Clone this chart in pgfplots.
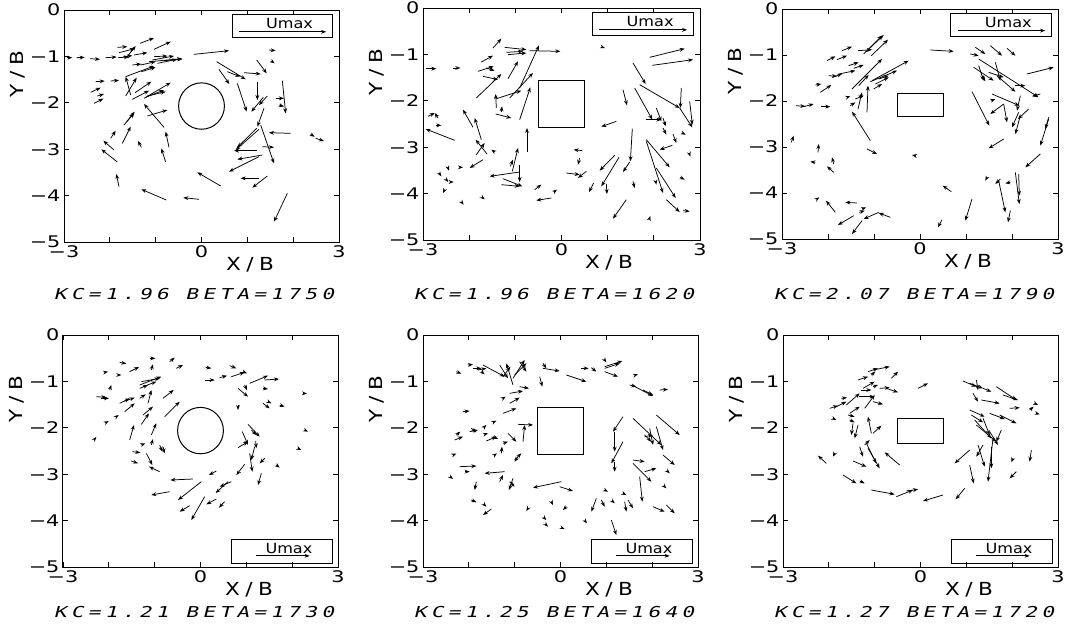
\documentclass[border=0pt]{standalone}
\usepackage{fontspec}
\setmainfont{DejaVu Sans}
\newfontfamily\capfont{DejaVu Sans Mono}[FakeStretch=1.4, FakeSlant=0.25, LetterSpace=29]
\newfontfamily\labfont{DejaVu Sans}[FakeStretch=1.2, LetterSpace=30]
\newfontfamily\tickfont{DejaVu Sans}[FakeStretch=1.3]
\newfontfamily\umaxfont{DejaVu Sans}[FakeStretch=1.15]
\usepackage{pgfplots}
\usepackage{pgfplotstable}
\pgfplotsset{compat=1.18}
\usetikzlibrary{arrows.meta}

% arrow tables: tail (a,b) and head (c,d), read in pixels of a 3x enlargement of each frame
\pgfplotstableread{
a b c d
8 143 25 143
38 143 62 142
78 146 108 148
125 143 158 141
162 143 195 141
160 112 190 110
165 128 212 116
178 140 205 137
188 142 215 108
228 100 270 84
270 118 320 95
210 135 250 128
205 165 232 162
230 165 275 155
255 155 355 146
265 150 330 138
270 140 310 138
280 160 340 148
300 152 355 147
390 133 495 122
615 120 635 122
622 153 632 160
185 200 270 168
232 185 275 172
95 215 122 213
140 213 165 211
80 247 110 233
100 258 120 252
90 280 118 266
200 255 185 200
185 258 218 203
213 248 262 215
205 268 255 242
240 265 320 218
245 262 300 240
250 258 305 245
250 318 310 300
300 352 240 282
180 345 210 310
188 335 212 305
175 400 200 350
140 385 155 362
150 420 118 392
160 456 112 418
232 412 222 393
315 412 305 365
305 456 292 415
165 530 157 492
307 570 232 538
405 568 358 563
470 528 400 487
458 155 545 208
465 178 496 222
490 185 528 200
540 188 590 192
578 150 608 190
580 215 580 270
520 220 548 305
598 262 562 305
610 258 585 285
655 212 665 310
635 265 660 265
645 285 660 290
600 295 580 350
590 345 630 460
680 370 615 368
740 373 752 380
755 385 780 393
578 355 520 412
585 358 515 420
595 410 630 412
580 422 510 422
595 435 520 448
585 440 495 485
610 498 565 533
585 505 530 505
670 550 630 635
}\tA

\pgfplotstableread{
a b c d
8 182 40 182
90 180 112 180
210 120 235 92
245 118 310 125
250 133 300 130
255 140 310 135
290 240 348 112
320 128 412 130
175 162 210 143
165 190 212 175
180 205 225 215
190 180 215 188
160 270 235 198
255 212 285 160
220 300 218 258
220 272 295 248
260 270 330 195
290 335 322 238
235 312 237 295
218 318 265 330
45 330 35 315
15 325 35 315
40 352 55 352
95 397 8 363
150 358 120 305
175 395 155 330
192 438 158 395
160 440 185 405
215 432 205 425
312 432 312 360
180 455 140 480
110 478 120 478
75 480 78 488
48 495 55 505
70 515 76 522
80 522 92 522
65 545 60 555
268 490 285 420
262 475 270 455
290 470 290 522
290 492 200 505
240 512 298 535
235 530 290 535
335 545 355 530
395 550 402 545
385 570 340 577
118 585 122 590
180 570 185 574
478 428 452 425
470 450 465 470
430 495 470 500
490 490 465 510
580 340 535 356
540 118 546 120
680 148 785 122
688 172 810 155
630 165 668 228
650 230 770 300
600 245 612 292
635 240 688 335
775 240 772 300
700 300 715 340
720 330 728 355
770 300 808 358
800 280 808 350
670 335 715 335
628 362 622 460
575 442 530 488
588 448 535 535
620 462 600 492
670 395 740 478
670 400 720 555
700 480 758 570
748 412 710 425
720 360 730 380
750 378 760 405
778 375 788 380
800 440 802 446
772 508 785 515
698 520 700 530
512 525 498 552
550 528 552 558
630 520 635 540
610 575 570 632
730 575 770 612
780 608 800 610
680 630 682 624
}\tB

\pgfplotstableread{
a b c d
135 155 160 142
165 152 195 140
180 125 210 113
228 125 270 122
250 130 305 78
268 140 318 92
245 135 300 80
200 170 230 160
215 178 245 168
150 205 180 195
170 195 220 185
140 200 165 202
210 240 300 150
230 230 260 198
265 218 345 185
270 215 380 155
280 225 320 205
290 210 320 200
275 240 300 225
100 228 118 225
115 250 148 228
42 290 70 292
65 293 95 285
118 293 145 293
195 265 205 262
205 290 220 280
220 270 245 260
228 300 240 250
255 310 258 230
265 395 210 308
255 420 285 435
28 400 35 380
108 430 110 405
100 460 85 458
155 465 150 445
155 490 135 472
400 440 390 438
445 123 515 127
105 570 112 565
160 610 132 575
225 582 190 580
240 600 252 595
232 610 248 605
215 620 168 648
240 635 210 675
290 610 245 630
325 625 290 612
508 548 482 530
570 570 550 635
480 632 468 655
580 115 610 135
625 110 660 140
675 118 700 140
565 135 590 140
590 150 770 265
575 175 635 215
590 170 605 215
600 200 610 217
620 190 665 205
640 160 655 215
645 200 700 248
700 230 730 230
735 195 815 175
775 255 750 262
570 248 622 350
628 275 640 270
665 285 625 315
630 255 712 290
665 285 675 340
715 260 705 305
710 310 690 355
715 320 700 375
740 300 708 330
800 325 790 360
800 330 775 410
665 390 620 418
775 435 730 475
615 505 610 515
655 510 640 525
650 515 670 610
685 520 670 523
700 490 712 585
710 495 712 560
685 605 678 640
}\tC

\pgfplotstableread{
a b c d
125 112 135 110
170 82 190 86
165 120 175 120
200 110 228 96
260 70 277 70
320 80 335 68
340 100 360 90
265 105 270 88
230 150 295 125
235 140 290 130
240 155 280 140
230 160 255 150
140 165 145 150
100 185 130 187
115 190 138 190
170 205 200 190
180 200 215 188
185 230 215 205
230 190 248 178
255 205 265 165
240 240 270 215
235 268 258 235
160 245 167 240
130 262 137 258
300 190 332 165
305 245 350 200
265 300 280 265
200 315 213 270
95 312 100 306
235 330 247 325
265 330 270 312
290 330 298 350
300 335 305 355
208 350 232 353
250 355 268 390
205 378 225 385
290 410 258 395
390 432 322 435
320 470 265 480
415 440 345 495
425 485 385 555
380 512 350 530
460 492 430 508
485 500 468 518
460 408 438 420
505 440 470 455
495 440 458 474
428 97 445 100
425 135 455 135
470 128 492 122
500 92 520 100
505 125 545 112
540 110 552 115
525 160 555 185
545 150 552 165
560 145 615 122
605 135 648 132
600 160 615 162
600 205 620 220
615 200 625 205
650 210 665 215
720 175 732 176
525 210 525 225
555 268 590 305
565 285 580 300
538 290 555 330
525 338 555 320
578 318 580 340
575 335 565 375
560 355 568 410
605 370 590 385
595 415 585 450
545 388 520 420
640 390 650 398
725 285 735 290
705 340 715 345
}\tD

\pgfplotstableread{
a b c d
100 110 115 116
135 90 150 88
180 90 245 125
150 100 175 100
165 105 190 100
175 110 185 118
230 90 255 130
240 125 262 95
270 150 250 85
275 120 310 85
270 130 305 75
290 80 310 110
360 85 370 100
360 100 410 108
350 125 358 155
430 120 490 140
475 100 497 100
505 98 520 110
545 95 598 78
545 100 590 85
545 110 585 125
545 75 550 82
638 120 645 118
620 150 640 155
630 152 690 183
660 165 690 180
710 165 735 163
290 155 318 160
260 175 300 168
240 190 248 185
260 205 290 188
240 235 280 220
120 230 140 228
210 262 220 257
285 268 330 270
300 320 305 270
100 300 112 290
95 315 120 305
140 290 165 285
145 280 160 292
185 275 190 270
185 298 195 295
190 318 220 305
210 305 225 312
240 325 255 320
255 295 280 320
235 355 237 335
215 360 222 355
95 358 100 356
110 395 160 393
125 410 140 410
85 428 90 432
245 410 185 415
230 440 240 420
270 430 258 465
260 440 275 455
160 440 155 465
275 375 295 355
285 365 275 380
145 495 160 502
185 510 190 515
205 522 180 540
315 520 310 528
385 500 390 510
430 515 420 525
365 550 370 555
370 570 375 575
420 580 425 582
488 560 492 565
415 440 330 458
410 455 450 468
600 245 570 290
575 290 575 350
600 320 565 385
575 380 575 410
630 250 715 330
700 240 770 300
665 300 685 320
700 275 720 345
680 280 690 330
665 305 690 300
720 360 755 390
630 375 665 380
630 385 685 440
665 410 700 400
650 425 658 500
735 410 740 415
725 455 730 460
690 515 725 530
730 510 755 535
520 490 505 530
545 465 555 470
535 495 545 515
570 500 575 505
600 475 610 480
605 500 610 530
615 495 630 520
565 555 580 600
}\tE

\pgfplotstableread{
a b c d
255 110 285 100
270 105 320 95
225 135 255 125
240 160 275 140
265 120 277 110
270 155 285 150
235 165 265 165
290 160 320 158
325 130 345 110
310 160 345 172
405 160 435 145
175 190 192 188
140 220 165 212
160 215 190 200
190 210 230 175
200 235 230 215
228 185 275 185
245 220 275 180
270 200 300 208
150 250 160 255
195 240 215 245
200 255 215 262
210 265 205 300
225 270 215 310
265 295 255 245
270 295 295 272
245 330 260 315
230 335 240 365
250 325 280 385
255 340 290 400
130 385 105 362
155 355 150 365
210 378 250 395
180 420 220 445
230 438 245 445
350 390 305 352
265 465 335 478
340 485 390 465
370 468 405 463
480 480 420 498
545 460 518 493
540 138 580 155
560 145 600 160
580 135 585 165
600 160 625 170
640 155 700 195
660 180 705 195
680 220 710 218
595 195 650 205
570 175 585 200
740 225 752 215
755 205 765 210
760 235 770 238
560 225 605 245
565 240 600 262
620 235 665 252
650 240 700 265
575 255 625 310
580 270 640 320
600 250 620 300
620 290 645 330
655 285 640 320
585 330 605 395
600 330 580 365
630 310 615 440
625 335 625 400
560 345 515 385
560 390 572 445
700 410 680 430
745 345 740 380
690 370 685 382
}\tF

\pgfplotsset{
  panel/.style={scale only axis, anchor=south west,
    xmin=-3, xmax=3, ymin=-5, ymax=0,
    xtick={-3,-2,-1,0,1,2,3}, xticklabels={−3,,,0,,,3},
    ytick={-5,-4,-3,-2,-1,0}, yticklabels={−5,−4,−3,−2,−1,0},
    tick align=inside, major tick length=5pt,
    tick style={black, line width=0.8pt},
    axis line style={line width=1pt},
    ticklabel style={font=\tickfont\fontsize{16}{16}\selectfont},
    clip=false},
  vec/.style={-{Stealth[length=5pt,width=3.8pt]}, black, line width=0.75pt, no markers},
}
\newcommand{\umaxtop}{%
  \draw[line width=1pt] (axis cs:0.67,-0.09) rectangle (axis cs:2.86,-0.59);
  \draw[line width=0.75pt,-{Stealth[length=5pt,width=3.8pt]}] (axis cs:0.82,-0.47) -- (axis cs:2.72,-0.47);
  \node[font=\umaxfont\fontsize{14}{14}\selectfont] at (axis cs:1.92,-0.29) {Umax};}
\newcommand{\umaxbot}{%
  \draw[line width=1pt] (axis cs:0.67,-4.40) rectangle (axis cs:2.87,-4.92);
  \draw[line width=0.75pt,-{Stealth[length=5pt,width=3.8pt]}] (axis cs:1.2,-4.76) -- (axis cs:2.38,-4.76);
  \node[font=\umaxfont\fontsize{14}{14}\selectfont] at (axis cs:1.93,-4.6) {Umax};}

\begin{document}
\begin{tikzpicture}
\path[use as bounding box] (0pt,0pt) rectangle (1078pt,633pt);

% ---------- panel 1
\begin{axis}[panel, at={(64pt,391pt)}, width=275pt, height=232pt]
\addplot[vec, quiver={u={(\thisrow{c}-\thisrow{a})/137.5}, v={(\thisrow{b}-\thisrow{d})/139.2}}]
  table[x expr={\thisrow{a}/137.5-3}, y expr={-\thisrow{b}/139.2}] {\tA};
\draw[line width=1pt] (axis cs:0,-2.07) circle [radius=0.5];
\umaxtop
\end{axis}

% ---------- panel 2
\begin{axis}[panel, at={(423pt,393pt)}, width=277pt, height=232pt]
\addplot[vec, quiver={u={(\thisrow{c}-\thisrow{a})/138.5}, v={(\thisrow{b}-\thisrow{d})/139.2}}]
  table[x expr={\thisrow{a}/138.5-3}, y expr={-\thisrow{b}/139.2}] {\tB};
\draw[line width=1pt] (axis cs:-0.5,-1.57) rectangle (axis cs:0.5,-2.57);
\umaxtop
\end{axis}

% ---------- panel 3
\begin{axis}[panel, at={(782pt,394pt)}, width=276pt, height=230pt]
\addplot[vec, quiver={u={(\thisrow{c}-\thisrow{a})/138}, v={(\thisrow{b}-\thisrow{d})/138}}]
  table[x expr={\thisrow{a}/138-3}, y expr={-\thisrow{b}/138}] {\tC};
\draw[line width=1pt] (axis cs:-0.5,-1.83) rectangle (axis cs:0.5,-2.34);
\umaxtop
\end{axis}

% ---------- panel 4
\begin{axis}[panel, at={(63pt,66pt)}, width=275pt, height=232pt]
\addplot[vec, quiver={u={(\thisrow{c}-\thisrow{a})/137.5}, v={(\thisrow{b}-\thisrow{d})/139.2}}]
  table[x expr={\thisrow{a}/137.5-3}, y expr={-\thisrow{b}/139.2}] {\tD};
\draw[line width=1pt] (axis cs:0,-2.06) circle [radius=0.5];
\umaxbot
\end{axis}

% ---------- panel 5
\begin{axis}[panel, at={(423pt,66pt)}, width=275pt, height=232pt]
\addplot[vec, quiver={u={(\thisrow{c}-\thisrow{a})/137.5}, v={(\thisrow{b}-\thisrow{d})/139.2}}]
  table[x expr={\thisrow{a}/137.5-3}, y expr={-\thisrow{b}/139.2}] {\tE};
\draw[line width=1pt] (axis cs:-0.5,-1.57) rectangle (axis cs:0.5,-2.57);
\umaxbot
\end{axis}

% ---------- panel 6
\begin{axis}[panel, at={(783pt,66pt)}, width=275pt, height=232pt]
\addplot[vec, quiver={u={(\thisrow{c}-\thisrow{a})/137.5}, v={(\thisrow{b}-\thisrow{d})/139.2}}]
  table[x expr={\thisrow{a}/137.5-3}, y expr={-\thisrow{b}/139.2}] {\tF};
\draw[line width=1pt] (axis cs:-0.5,-1.81) rectangle (axis cs:0.5,-2.33);
\umaxbot
\end{axis}

% ---------- axis labels and captions
\foreach \lx/\ly in {64/391, 423/393, 782/394, 63/66, 423/66, 783/66} {
  \node[rotate=90, font=\labfont\fontsize{18}{18}\selectfont] at ({(\lx-46)*1pt},{(\ly+168)*1pt}) {Y/B};
  \node[font=\labfont\fontsize{18}{18}\selectfont] at ({(\lx+186)*1pt},{(\ly-23)*1pt}) {X/B};
}
\node[font=\capfont\fontsize{15}{15}\selectfont] at (194pt,339pt) {KC=1.96 BETA=1750};
\node[font=\capfont\fontsize{15}{15}\selectfont] at (554pt,339pt) {KC=1.96 BETA=1620};
\node[font=\capfont\fontsize{15}{15}\selectfont] at (914pt,339pt) {KC=2.07 BETA=1790};
\node[font=\capfont\fontsize{15}{15}\selectfont] at (194pt,21pt) {KC=1.21 BETA=1730};
\node[font=\capfont\fontsize{15}{15}\selectfont] at (554pt,21pt) {KC=1.25 BETA=1640};
\node[font=\capfont\fontsize{15}{15}\selectfont] at (914pt,21pt) {KC=1.27 BETA=1720};
\end{tikzpicture}
\end{document}
